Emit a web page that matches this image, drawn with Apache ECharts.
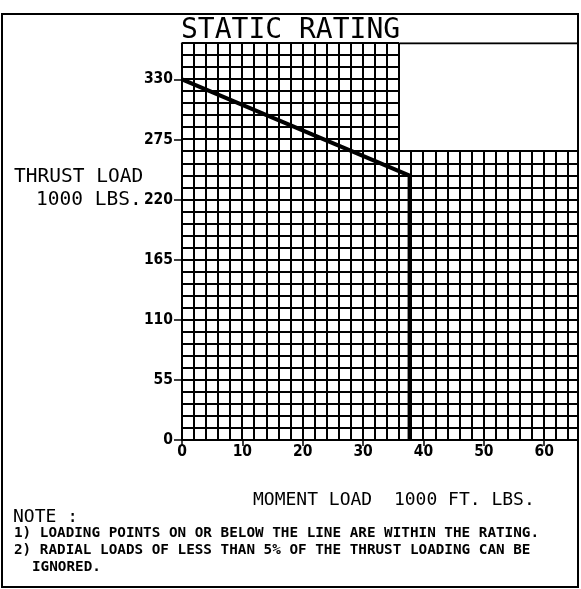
<!DOCTYPE html>
<html>
<head>
<meta charset="utf-8">
<script src="https://cdn.jsdelivr.net/npm/echarts@6/dist/echarts.min.js"></script>
<style>
  html, body { margin: 0; padding: 0; background: #fff; }
  #main { width: 581px; height: 589px; }
</style>
</head>
<body>
<div id="main"></div>
<script>
// axis ranges and tick labels
var xMax = 65.6;
var yMax = 363;
var xTicks = [0, 10, 20, 30, 40, 50, 60];
var yTicks = [0, 55, 110, 165, 220, 275, 330];

// rating curve: moment (1000 ft.lbs), thrust (1000 lbs)
var ratingLine = [[0, 330], [37.7, 242], [37.7, 0]];

// chart paper blocks: [x from, x to, top], cell size 2 x 11
var gridBlocks = [[0, 36, 363], [36, 65.6, 264]];
var cellX = 2;
var cellY = 11;
var topEdge = [[36, 363], [65.6, 363]];

var mono = "DejaVu Sans Mono";
var narrow = "'Liberation Sans Narrow', 'DejaVu Sans Condensed', 'Liberation Sans'";

function seg(p1, p2) {
	return {
		type: 'line',
		shape: { x1: Math.round(p1[0]), y1: Math.round(p1[1]), x2: Math.round(p2[0]), y2: Math.round(p2[1]) },
		style: { stroke: '#000', lineWidth: 2 }
	};
}

// draw one block of paper grid through the axes
function renderPaper(params, api) {
	var x0 = api.value(0), x1 = api.value(1), top = api.value(2);
	var children = [];
	var x = x0;
	for (; x <= x1 + 1e-6; x += cellX) {
		children.push(seg(api.coord([x, 0]), api.coord([x, top])));
	}
	if (x - cellX < x1 - 1e-6) {
		children.push(seg(api.coord([x1, 0]), api.coord([x1, top])));
	}
	for (var y = 0; y <= top + 1e-6; y += cellY) {
		children.push(seg(api.coord([x0, y]), api.coord([x1, y])));
	}
	return { type: 'group', children: children };
}

var myChart = echarts.init(document.getElementById('main'), null, { renderer: 'canvas' });

var option = {
	backgroundColor: '#fff',
	animation: false,
	grid: { left: 182, right: 3, top: 43.3, bottom: 149, containLabel: false },
	xAxis: {
		type: 'value',
		min: 0,
		max: xMax,
		interval: 10,
		splitLine: { show: false },
		axisLine: { show: true, onZero: false, lineStyle: { color: '#000', width: 2 } },
		axisTick: { show: true, length: 6, customValues: xTicks, lineStyle: { color: '#000', width: 1.5 } },
		axisLabel: {
			customValues: xTicks,
			margin: 4,
			color: '#000',
			fontFamily: narrow,
			fontWeight: 'bold',
			fontSize: 15.5
		}
	},
	yAxis: {
		type: 'value',
		min: 0,
		max: yMax,
		interval: 55,
		splitLine: { show: false },
		axisLine: { show: true, lineStyle: { color: '#000', width: 2 } },
		axisTick: { show: true, length: 8, customValues: yTicks, lineStyle: { color: '#000', width: 1.5 } },
		axisLabel: {
			customValues: yTicks,
			margin: 9,
			color: '#000',
			fontFamily: narrow,
			fontWeight: 'bold',
			fontSize: 15.5
		}
	},
	series: [
		{
			type: 'custom',
			renderItem: renderPaper,
			data: gridBlocks,
			encode: { x: [0, 1], y: 2 },
			clip: false,
			silent: true,
			z: 1
		},
		{
			type: 'line',
			data: topEdge,
			showSymbol: false,
			lineStyle: { color: '#000', width: 2 },
			z: 2
		},
		{
			type: 'line',
			data: ratingLine,
			showSymbol: false,
			lineStyle: { color: '#000', width: 4, join: 'miter' },
			z: 3
		}
	],
	graphic: [
		{ type: 'rect', shape: { x: 2, y: 14, width: 576, height: 573 }, style: { fill: 'none', stroke: '#000', lineWidth: 2 }, z: 10 },
		{ type: 'text', left: 181, top: 17, style: { text: 'STATIC RATING', font: '28px "' + mono + '"', fill: '#000' } },
		{ type: 'text', left: 14, top: 167, style: { text: 'THRUST LOAD', font: '19.5px "' + mono + '"', fill: '#000' } },
		{ type: 'text', left: 36, top: 190, style: { text: '1000 LBS.', font: '19.5px "' + mono + '"', fill: '#000' } },
		{ type: 'text', left: 253, top: 491, style: { text: 'MOMENT LOAD  1000 FT. LBS.', font: '18px "' + mono + '"', fill: '#000' } },
		{ type: 'text', left: 13, top: 508, style: { text: 'NOTE :', font: '18px "' + mono + '"', fill: '#000' } },
		{ type: 'text', left: 14, top: 526, style: { text: '1) LOADING POINTS ON OR BELOW THE LINE ARE WITHIN THE RATING.', font: 'bold 14.3px "' + mono + '"', fill: '#000' } },
		{ type: 'text', left: 14, top: 543, style: { text: '2) RADIAL LOADS OF LESS THAN 5% OF THE THRUST LOADING CAN BE', font: 'bold 14.3px "' + mono + '"', fill: '#000' } },
		{ type: 'text', left: 32, top: 560, style: { text: 'IGNORED.', font: 'bold 14.3px "' + mono + '"', fill: '#000' } }
	]
};

myChart.setOption(option);
</script>
</body>
</html>
